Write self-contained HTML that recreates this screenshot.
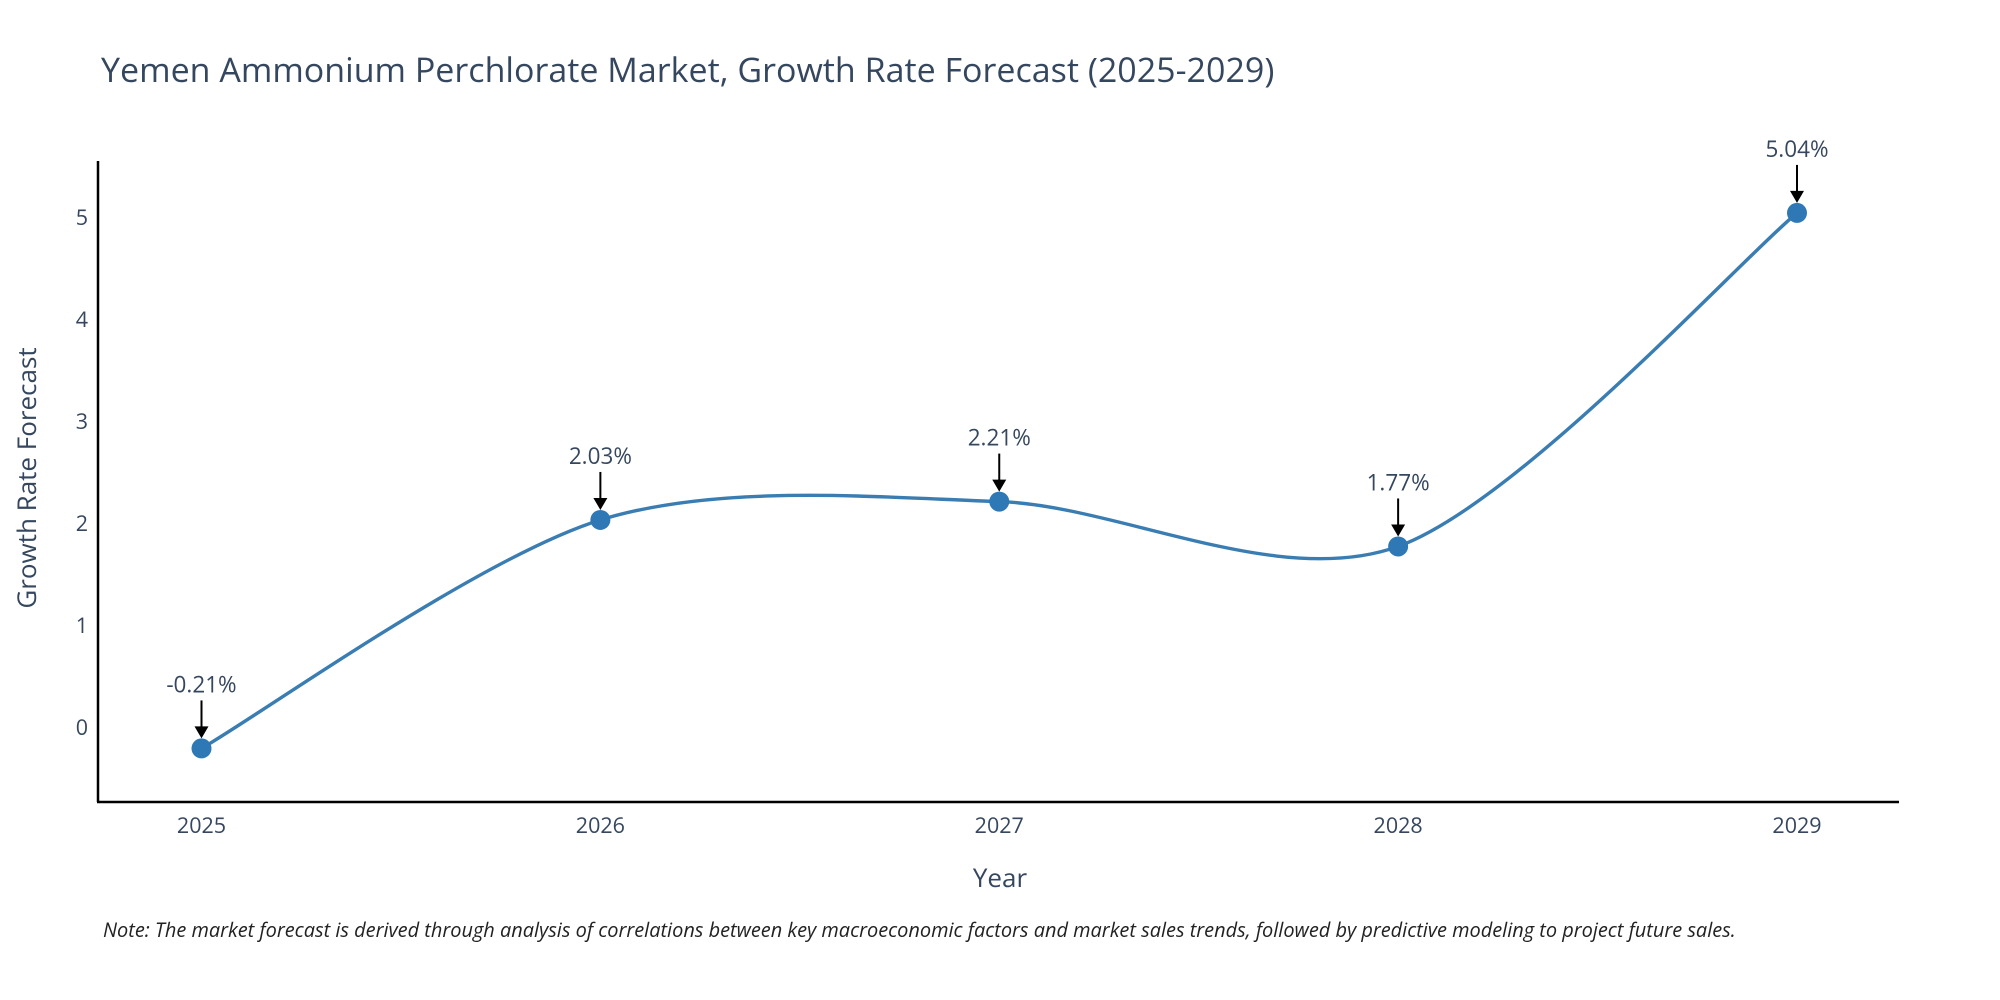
<!DOCTYPE html>
<html><head><meta charset="utf-8"><style>
html,body{margin:0;padding:0;background:#fff;}
svg{display:block;font-family:"Open Sans","Liberation Sans",sans-serif;}
</style></head><body>
<svg id="chart" width="2000" height="1000" viewBox="0 0 2000 1000">
<text x="101" y="82" font-size="34" fill="#35475f">Yemen Ammonium Perchlorate Market, Growth Rate Forecast (2025-2029)</text>
<g id="yticks"></g>
<g id="xticks"></g>
<line x1="98" y1="161" x2="98" y2="802" stroke="#000" stroke-width="2.5"/>
<line x1="97" y1="802" x2="1899" y2="802" stroke="#000" stroke-width="2.5"/>
<path id="line" fill="none" stroke="#3a7db2" stroke-width="3.4"/>
<g id="points"></g>
<g id="annots"></g>
<text x="1000" y="887" font-size="26" fill="#35475f" text-anchor="middle">Year</text>
<text transform="translate(36,478) rotate(-90)" font-size="26" fill="#35475f" text-anchor="middle">Growth Rate Forecast</text>
<text x="103" y="937" font-size="19.95" font-style="italic" fill="#222">Note: The market forecast is derived through analysis of correlations between key macroeconomic factors and market sales trends, followed by predictive modeling to project future sales.</text>
</svg>
<script>
const years = ["2025","2026","2027","2028","2029"];
const values = [-0.21, 2.03, 2.21, 1.77, 5.04];
const valueLabels = ["-0.21%","2.03%","2.21%","1.77%","5.04%"];
const yTicks = [0,1,2,3,4,5];

const NS="http://www.w3.org/2000/svg";
const x0=201.5, x1=1797;
function xs(i){return x0+(x1-x0)*i/(years.length-1);}
function ys(v){return 727-v*102;}
function mk(tag,attrs,parent){const e=document.createElementNS(NS,tag);for(const k in attrs)e.setAttribute(k,attrs[k]);parent.appendChild(e);return e;}

const yt=document.getElementById('yticks');
yTicks.forEach(t=>{
  const e=mk('text',{x:88,y:ys(t)+8,'font-size':21.5,fill:'#35475f','text-anchor':'end'},yt);
  e.textContent=t;
  
  
});
const xt=document.getElementById('xticks');
years.forEach((y,i)=>{
  const e=mk('text',{x:xs(i),y:833,'font-size':21.5,fill:'#35475f','text-anchor':'middle'},xt);
  e.textContent=y;
  
  
});

const P=values.map((v,i)=>[xs(i),ys(v)]);
let d=`M${P[0][0]},${P[0][1]}`;
const k=0.15;
for(let i=0;i<P.length-1;i++){
  const p0=P[Math.max(i-1,0)],p1=P[i],p2=P[i+1],p3=P[Math.min(i+2,P.length-1)];
  const c1=[p1[0]+(p2[0]-p0[0])*k,p1[1]+(p2[1]-p0[1])*k];
  const c2=[p2[0]-(p3[0]-p1[0])*k,p2[1]-(p3[1]-p1[1])*k];
  d+=` C${c1[0]},${c1[1]} ${c2[0]},${c2[1]} ${p2[0]},${p2[1]}`;
}
document.getElementById('line').setAttribute('d',d);

const pts=document.getElementById('points'), an=document.getElementById('annots');
P.forEach((p,i)=>{
  const c=mk('circle',{cx:p[0],cy:p[1],r:10,fill:'#2e78b5'},pts);
  
  
  const l=mk('line',{x1:p[0],y1:p[1]-48,x2:p[0],y2:p[1]-20,stroke:'#000','stroke-width':2},an);
  
  
  const h=mk('polygon',{points:`${p[0]-7},${p[1]-22} ${p[0]+7},${p[1]-22} ${p[0]},${p[1]-10}`,fill:'#000'},an);
  
  
  const t=mk('text',{x:p[0],y:p[1]-56,'font-size':22.5,fill:'#35475f','text-anchor':'middle'},an);
  t.textContent=valueLabels[i];
  
  
});
</script>
</body></html>
